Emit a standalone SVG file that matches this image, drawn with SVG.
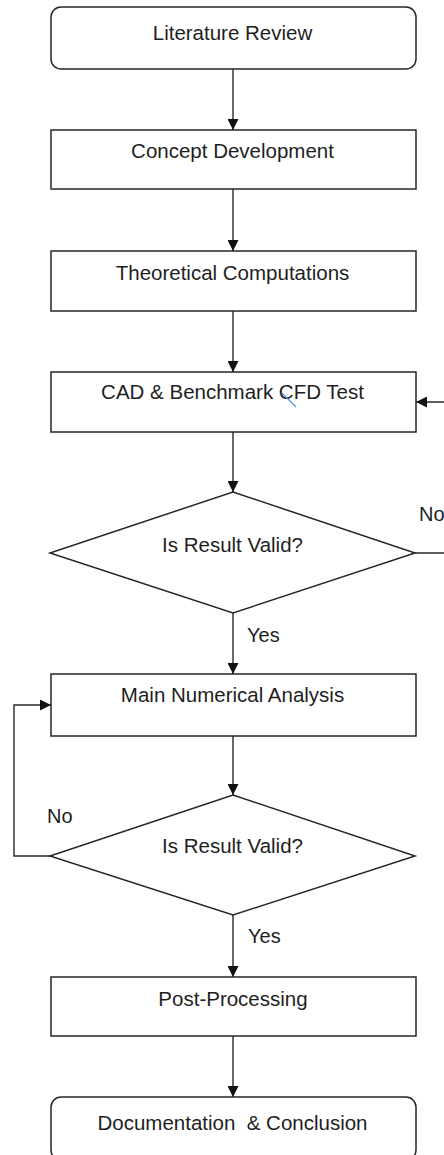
<svg xmlns="http://www.w3.org/2000/svg" width="444" height="1155" viewBox="0 0 444 1155">
  <style>
    .box { fill: #ffffff; stroke: #262626; stroke-width: 1.5; }
    .label { font-family: "Liberation Sans", Arial, sans-serif; font-size: 20.5px; fill: #1e1e1e; text-anchor: middle; }
    .tag { font-family: "Liberation Sans", Arial, sans-serif; font-size: 20px; fill: #1e1e1e; }
    .link { fill: none; stroke: #2a2a2a; stroke-width: 1.4; marker-end: url(#arrow); }
  </style>
  <defs>
    <marker id="arrow" viewBox="0 0 10 10" refX="10" refY="5" markerWidth="11" markerHeight="11" markerUnits="userSpaceOnUse" orient="auto">
      <path d="M0,0 L10,5 L0,10 Z" fill="#111111"/>
    </marker>
  </defs>
  <rect width="444" height="1155" fill="#ffffff"/>

  <!-- connectors -->
  <g id="connectors">
    <path class="link" d="M233,69 V130"/>
    <path class="link" d="M233,189 V251"/>
    <path class="link" d="M233,311 V372"/>
    <path class="link" d="M233,432 V492"/>
    <path class="link" d="M233,613 V674"/>
    <path class="link" d="M233,736 V795"/>
    <path class="link" d="M233,915 V977"/>
    <path class="link" d="M233,1036 V1097"/>
    <!-- first check fails: back to the CAD step, routed past the right edge -->
    <path class="link" d="M415,553 H470 V402 H416"/>
    <!-- second check fails: back to the main analysis -->
    <path class="link" d="M50,856 H14 V705 H51"/>
    <text class="tag" x="419" y="521">No</text>
    <text class="tag" x="247" y="642">Yes</text>
    <text class="tag" x="47" y="823">No</text>
    <text class="tag" x="248" y="943">Yes</text>
  </g>

  <g id="literature-review">
    <rect class="box" x="51" y="7" width="365" height="62" rx="10"/>
    <text class="label" x="232.5" y="40">Literature Review</text>
  </g>

  <g id="concept-development">
    <rect class="box" x="51" y="130" width="365" height="59"/>
    <text class="label" x="232.5" y="158">Concept Development</text>
  </g>

  <g id="theoretical-computations">
    <rect class="box" x="51" y="251" width="365" height="60"/>
    <text class="label" x="232.5" y="280">Theoretical Computations</text>
  </g>

  <g id="cad-benchmark">
    <rect class="box" x="51" y="372" width="365" height="60"/>
    <text class="label" x="232.5" y="399">CAD &amp; Benchmark CFD Test</text>
    <line x1="282" y1="393" x2="296" y2="407" stroke="#4a90d9" stroke-width="1.1"/>
  </g>

  <g id="check-benchmark">
    <polygon class="box" points="233,492 415,553 233,613 50,553"/>
    <text class="label" x="232.5" y="552">Is Result Valid?</text>
  </g>

  <g id="main-analysis">
    <rect class="box" x="51" y="674" width="365" height="62"/>
    <text class="label" x="232.5" y="702">Main Numerical Analysis</text>
  </g>

  <g id="check-analysis">
    <polygon class="box" points="233,795 415,856 233,915 50,856"/>
    <text class="label" x="232.5" y="853">Is Result Valid?</text>
  </g>

  <g id="post-processing">
    <rect class="box" x="51" y="977" width="365" height="59"/>
    <text class="label" x="233" y="1006">Post-Processing</text>
  </g>

  <g id="documentation">
    <rect class="box" x="51" y="1097" width="365" height="63" rx="10"/>
    <text class="label" x="232.5" y="1130" style="white-space:pre">Documentation  &amp; Conclusion</text>
  </g>
</svg>
